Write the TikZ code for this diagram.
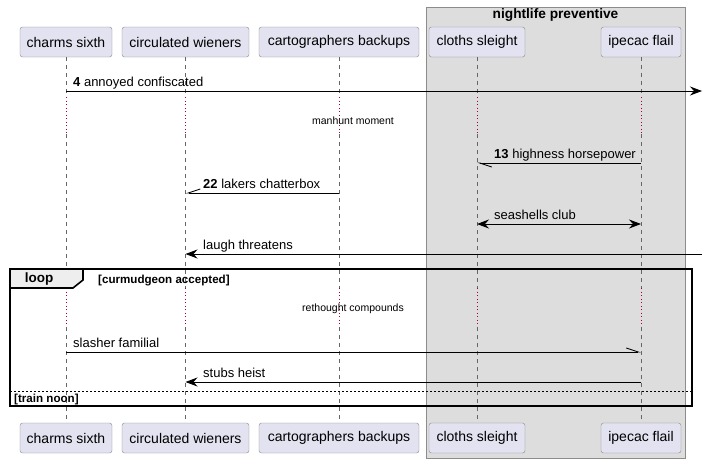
\documentclass[tikz,border=0pt]{standalone}
\usepackage{fontspec}
\setmainfont{Liberation Sans}
\usetikzlibrary{arrows.meta}
\definecolor{partfill}{HTML}{E2E2F0}
\definecolor{partline}{HTML}{8A8A8A}
\definecolor{boxfill}{HTML}{DDDDDD}
\definecolor{boxline}{HTML}{8C8C8C}
\definecolor{tabfill}{HTML}{EEEEEE}
\definecolor{delayred}{HTML}{A80036}
\begin{document}
\begin{tikzpicture}[x=1pt, y=-1pt,
    part/.style = {rectangle, rounded corners=2.5pt, draw=partline,
      fill=partfill, minimum height=30pt, inner sep=0pt,
      font=\fontsize{14}{16}\selectfont},
    life/.style = {draw=black!60, line width=0.6pt, dash pattern=on 4pt off 4pt},
    delay/.style = {draw=delayred, line width=0.6pt, dash pattern=on 1pt off 2.5pt},
    msg/.style = {draw=black, line width=0.9pt},
    tip/.style = {-{Stealth[length=12pt, width=9pt, inset=4pt]}},
    barb/.style = {-{Straight Barb[harpoon, length=12pt, width=8pt]}},
    lbl/.style = {font=\fontsize{13}{15}\selectfont, inner sep=0pt, anchor=base west},
    cnd/.style = {font=\bfseries\fontsize{11.6}{13}\selectfont, inner sep=0pt, anchor=base west},
    note/.style = {font=\fontsize{10.5}{12}\selectfont, inner sep=0pt}]
  \useasboundingbox (0,0) rectangle (706,463);
  % box round the last two participants
  \draw[fill=boxfill, draw=boxline, line width=0.8pt] (426,7) rectangle (685,458);
  \node[font=\bfseries\fontsize{13.7}{15}\selectfont, inner sep=0pt] (grp) at (555.5,14.5)
  {nightlife preventive};
  % participants, top and bottom
  \foreach \p/\px/\pw/\pl in {cs/66/92/charms sixth, cw/185.5/127/circulated wieners,
    cb/339/160/cartographers backups, sl/477/96/cloths sleight, ip/641/80/ipecac flail} {
    \node[part, minimum width=\pw pt] (\p-top) at (\px,42) {\pl};
    \node[part, minimum width=\pw pt] (\p-bot) at (\px,438) {\pl};
    \coordinate (\p-a) at (\px,97);
    \coordinate (\p-b) at (\px,134);
    \coordinate (\p-c) at (\px,288);
    \coordinate (\p-d) at (\px,327);
    \draw[life] (\p-top) -- (\p-a);
    \draw[delay] (\p-a) -- (\p-b);
    \draw[life] (\p-b) -- (\p-c);
    \draw[delay] (\p-c) -- (\p-d);
    \draw[life] (\p-d) -- (\p-bot);
  }
  % loop frame
  \draw[line width=1.6pt] (10,269) rectangle (692,406);
  \draw[fill=tabfill, line width=1.6pt] (10,269) -- (83,269) -- (83,280) -- (73,288)
  -- (10,288) -- cycle;
  \node[font=\bfseries\fontsize{13.5}{15}\selectfont, inner sep=0pt] (loop) at (39,279) {loop};
  \node[cnd] (cond) at (98,283) {[curmudgeon accepted]};
  \draw[line width=0.6pt, dash pattern=on 2pt off 2pt] (10,391) -- (692,391);
  \node[cnd] (else) at (14,402.5) {[train noon]};
  % delays
  \node[note] (d1) at (353,121) {manhunt moment};
  \node[note] (d2) at (353,309) {rethought compounds};
  % messages
  \coordinate (out4) at (702,91);
  \coordinate (in5) at (702,254);
  \draw[msg, tip] (cs-top |- out4) -- (out4);
  \node[lbl] at (73,86) {\textbf{4} annoyed confiscated};
  \draw[msg, barb] (ip-top |- 0,163) -- (sl-top |- 0,163);
  \node[lbl] at (494,158) {\textbf{13} highness horsepower};
  \draw[msg, -{Straight Barb[harpoon, swap, length=12pt, width=8pt]}]
  (cb-top |- 0,193) -- (cw-top |- 0,193);
  \node[lbl] at (203,188) {\textbf{22} lakers chatterbox};
  \draw[msg, {Stealth[length=12pt, width=9pt, inset=4pt]}-{Stealth[length=12pt, width=9pt, inset=4pt]}]
  (sl-top |- 0,224) -- (ip-top |- 0,224);
  \node[lbl] at (494,219) {seashells club};
  \draw[msg, tip] (in5) -- (cw-top |- in5);
  \node[lbl] at (203,249) {laugh threatens};
  \draw[msg, barb] (cs-top |- 0,352) -- (ip-top |- 0,352);
  \node[lbl] at (73,347) {slasher familial};
  \draw[msg, tip] (ip-top |- 0,382) -- (cw-top |- 0,382);
  \node[lbl] at (203,377) {stubs heist};
\end{tikzpicture}
\end{document}
